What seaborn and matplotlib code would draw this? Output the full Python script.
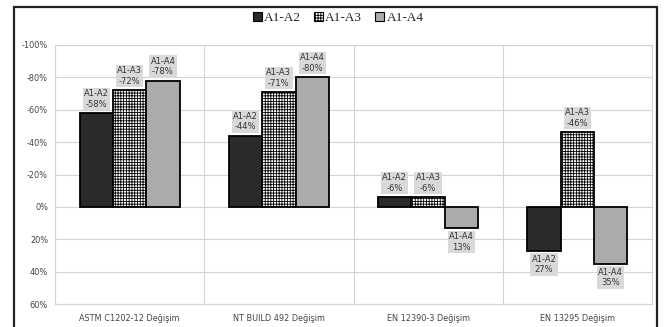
import numpy as np
import pandas as pd
import matplotlib
matplotlib.use("Agg")
import matplotlib.pyplot as plt
import matplotlib.patches as mpatches
import seaborn as sns

categories = ["ASTM C1202-12 Değişim", "NT BUILD 492 Değişim", "EN 12390-3 Değişim", "EN 13295 Değişim"]
series = ["A1-A2", "A1-A3", "A1-A4"]
a1_a2 = [-58, -44, -6, 27]
a1_a3 = [-72, -71, -6, -46]
a1_a4 = [-78, -80, 13, 35]
y_ticks = [-100, -80, -60, -40, -20, 0, 20, 40, 60]
y_tick_labels = ["-100%", "-80%", "-60%", "-40%", "-20%", "0%", "20%", "40%", "60%"]

values = {"A1-A2": a1_a2, "A1-A3": a1_a3, "A1-A4": a1_a4}
rows = []
for s in series:
    for c, v in zip(categories, values[s]):
        rows.append({"test": c, "pair": s, "value": v})
df = pd.DataFrame(rows)

sns.set_theme(style="white")
plt.rcParams["font.family"] = ["DejaVu Sans"]
plt.rcParams["hatch.color"] = "black"
plt.rcParams["hatch.linewidth"] = 0.6

fig = plt.figure(figsize=(6.64, 3.27), dpi=100)
ax = fig.add_axes([55/664, 1-304/327, (652-55)/664, (304-45)/327])

colors = ["#2a2a2a", "#ffffff", "#ababab"]
sns.barplot(data=df, x="test", y="value", hue="pair", order=categories, hue_order=series,
            palette=colors, width=0.67, edgecolor="black", linewidth=1.3, saturation=1,
            ax=ax, legend=False)

for patch in ax.containers[1]:
    patch.set_hatch("++++++")

ax.set_ylim(60, -100)
ax.set_yticks(y_ticks)
ax.set_yticklabels(y_tick_labels)
ax.set_xlabel("")
ax.set_ylabel("")
ax.tick_params(axis="both", labelsize=5.9, colors="#444444", length=0)
ax.tick_params(axis="y", pad=5)
ax.tick_params(axis="x", pad=7)
ax.set_xticks(np.arange(len(categories) + 1) - 0.5, minor=True)
ax.tick_params(which="minor", length=0)
ax.grid(axis="y", which="major", color="#d4d4d4", linewidth=0.8)
ax.grid(axis="x", which="minor", color="#d4d4d4", linewidth=0.8)
ax.set_axisbelow(True)
for sp in ax.spines.values():
    sp.set_color("#d4d4d4")
    sp.set_linewidth(0.8)

# data labels
for s, cont in zip(series, ax.containers):
    for patch, v in zip(cont, values[s]):
        x = patch.get_x() + patch.get_width() / 2
        txt = f"{s}\n{v}%"
        if v < 0:
            ax.annotate(txt, (x, v), xytext=(0, 3), textcoords="offset points",
                        ha="center", va="bottom", fontsize=6.0, color="#333333",
                        linespacing=1.25,
                        bbox=dict(boxstyle="square,pad=0.15", fc="#d9d9d9", ec="none"))
        else:
            ax.annotate(txt, (x, v), xytext=(0, -3), textcoords="offset points",
                        ha="center", va="top", fontsize=6.0, color="#333333",
                        linespacing=1.25,
                        bbox=dict(boxstyle="square,pad=0.15", fc="#d9d9d9", ec="none"))

# legend
handles = []
for s, col, cont in zip(series, colors, ax.containers):
    h = mpatches.Patch(facecolor=col, edgecolor="black", linewidth=0.8,
                       hatch=cont[0].get_hatch())
    handles.append(h)
fig.legend(handles, series, loc="center", bbox_to_anchor=(338/664, 1-18/327), ncol=3,
           frameon=False, prop={"family": "Liberation Serif", "size": 9.5},
           handlelength=0.7, handleheight=0.7, handletextpad=0.15, columnspacing=1.0)

# outer frame
frame = mpatches.Rectangle((14/664, -0.05), (657-14)/664, 1.05 - 7/327,
                           transform=fig.transFigure, fill=False,
                           edgecolor="#222222", linewidth=1.6)
fig.patches.append(frame)

fig.savefig("out.png", dpi=100)
